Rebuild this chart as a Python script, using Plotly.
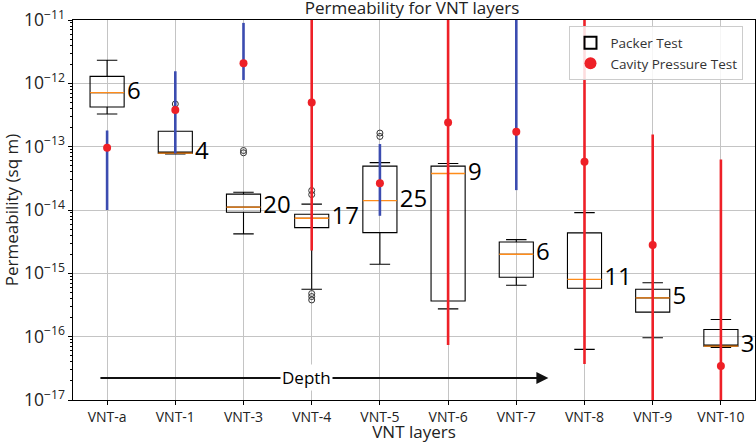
import plotly.graph_objects as go

categories = ["VNT-a", "VNT-1", "VNT-3", "VNT-4", "VNT-5", "VNT-6", "VNT-7", "VNT-8", "VNT-9", "VNT-10"]
counts = [6, 4, 20, 17, 25, 9, 6, 11, 5, 3]

# Packer test box statistics
lowerfence = [3.28e-13, 7.7e-14, 4.2e-15, 5.6e-16, 1.39e-15, 2.75e-16, 6.5e-16, 6.3e-17, 9.6e-17, 6.75e-17]
q1 = [4.24e-13, 7.9e-14, 9.2e-15, 5.27e-15, 4.39e-15, 3.65e-16, 8.65e-16, 5.8e-16, 2.44e-16, 7.1e-17]
median = [7.13e-13, 7.9e-14, 1.11e-14, 7.41e-15, 1.41e-14, 3.77e-14, 2.0e-15, 8.0e-16, 4.1e-16, 7.1e-17]
q3 = [1.29e-12, 1.75e-13, 1.78e-14, 8.57e-15, 4.93e-14, 4.93e-14, 3.13e-15, 4.35e-15, 5.6e-16, 1.3e-16]
upperfence = [2.31e-12, 1.75e-13, 1.91e-14, 1.24e-14, 5.6e-14, 5.42e-14, 3.4e-15, 9.1e-15, 7.1e-16, 1.87e-16]

# Packer test outliers (category index, value)
outlier_cat = [1, 2, 2, 3, 3, 3, 3, 3, 4, 4]
outlier_val = [4.72e-13, 8.7e-14, 8.0e-14, 2.03e-14, 1.75e-14, 4.8e-16, 4.3e-16, 3.8e-16, 1.64e-13, 1.45e-13]

# Cavity pressure test values and ranges
cavity_val = [9.6e-14, 3.8e-13, 2.07e-12, 5.0e-13, 2.65e-14, 2.4e-13, 1.72e-13, 5.8e-14, 2.8e-15, 3.45e-17]
cavity_low = [1.0e-14, 7.8e-14, 1.13e-12, 2.3e-15, 8.1e-15, 7.4e-17, 2.06e-14, 3.7e-17, 1e-18, 1e-18]
cavity_high = [1.8e-13, 1.55e-12, 9.0e-12, 1e-10, 1.1e-13, 1e-10, 1e-10, 1e-10, 1.56e-13, 6.3e-14]
range_colour = ["blue", "blue", "blue", "red", "blue", "red", "blue", "red", "red", "red"]

BLUE = "#3b4cb0"
RED = "#ee2027"
FONT = "Open Sans"

xs = list(range(len(categories)))
BW = 0.5

fig = go.Figure()

fig.add_trace(go.Box(
    x=xs, q1=q1, median=median, q3=q3,
    lowerfence=lowerfence, upperfence=upperfence,
    name="Packer Test", width=BW, whiskerwidth=0.6,
    line=dict(color="black", width=1.1),
    fillcolor="rgba(255,255,255,0)", boxpoints=False,
    showlegend=True,
))

# orange median lines
mx, my = [], []
for i, m in zip(xs, median):
    mx += [i - BW / 2, i + BW / 2, None]
    my += [m, m, None]
fig.add_trace(go.Scatter(x=mx, y=my, mode="lines",
                         line=dict(color="#ff8c1a", width=1.3),
                         showlegend=False, hoverinfo="skip"))

# outliers
fig.add_trace(go.Scatter(x=outlier_cat, y=outlier_val, mode="markers",
                         marker=dict(symbol="circle-open", size=6,
                                     color="#333", line=dict(width=1)),
                         showlegend=False))

# cavity ranges
for col, c in (("blue", BLUE), ("red", RED)):
    lx, ly = [], []
    for i, lo, hi, rc in zip(xs, cavity_low, cavity_high, range_colour):
        if rc == col:
            lx += [i, i, None]
            ly += [lo, hi, None]
    fig.add_trace(go.Scatter(x=lx, y=ly, mode="lines",
                             line=dict(color=c, width=2.6),
                             showlegend=False, hoverinfo="skip"))

fig.add_trace(go.Scatter(x=xs, y=cavity_val, mode="markers",
                         marker=dict(color=RED, size=8),
                         name="Cavity Pressure Test"))

# count labels
fig.add_trace(go.Scatter(x=[i + BW / 2 + 0.04 for i in xs], y=median,
                         mode="text", text=[str(c) for c in counts],
                         textposition="middle right",
                         textfont=dict(family=FONT, size=24, color="black"),
                         showlegend=False, hoverinfo="skip", cliponaxis=False))

# Depth arrow
fig.add_annotation(x=6.47, y=-16.652, ax=-0.12, ay=-16.652,
                   xref="x", yref="y", axref="x", ayref="y",
                   text="", showarrow=True, arrowhead=2, arrowsize=1.2,
                   arrowwidth=2, arrowcolor="#111")
fig.add_annotation(x=2.93, y=-16.652, xref="x", yref="y", text="Depth",
                   showarrow=False, bgcolor="white",
                   font=dict(family=FONT, size=17, color="black"))

axis_common = dict(showline=True, linecolor="black", linewidth=1.2, mirror=True,
                   ticks="outside", ticklen=4, tickcolor="black",
                   showgrid=True, gridcolor="#c4c4c4", gridwidth=0.8,
                   zeroline=False, automargin=False)

fig.update_xaxes(range=[-0.5, 9.5], tickvals=xs, ticktext=categories,
                 tickfont=dict(family=FONT, size=14, color="#222"),
                 title=dict(text="VNT layers", font=dict(family=FONT, size=17, color="#222"),
                            standoff=5),
                 **axis_common)
fig.update_yaxes(type="log", range=[-17, -11], dtick=1, exponentformat="power",
                 tickfont=dict(family=FONT, size=14, color="#222"),
                 title=dict(text="Permeability (sq m)",
                            font=dict(family=FONT, size=17, color="#222"), standoff=4),
                 minor=dict(ticks="outside", ticklen=2, tickcolor="black", showgrid=False),
                 **axis_common)

fig.update_layout(
    width=756, height=443,
    margin=dict(l=73, r=1, t=20, b=43),
    paper_bgcolor="white", plot_bgcolor="white",
    title=dict(text="Permeability for VNT layers", x=0.545, xanchor="center",
               y=0.995, yanchor="top", yref="container", pad=dict(t=0, b=0),
               automargin=False,
               font=dict(family=FONT, size=17, color="#222")),
    legend=dict(x=0.728, y=0.983, xanchor="left", yanchor="top",
                bgcolor="rgba(255,255,255,0.85)", bordercolor="#cccccc", borderwidth=1,
                font=dict(family=FONT, size=13.5, color="#333"),
                tracegroupgap=0, itemsizing="constant"),
    showlegend=True,
)

fig.write_html("out.html", config={"displayModeBar": False},
               post_script="document.body.style.margin='0';document.body.style.overflow='hidden';")
